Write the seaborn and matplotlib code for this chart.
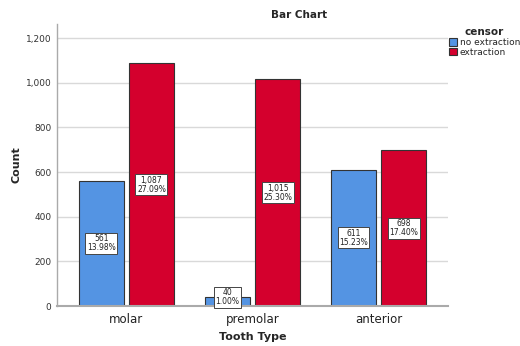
import numpy as np
import pandas as pd
import matplotlib
matplotlib.use('Agg')
import matplotlib.pyplot as plt
import seaborn as sns

tooth_types = ['molar', 'premolar', 'anterior']
censor_levels = ['no extraction', 'extraction']
no_extraction_counts = [561, 40, 611]
extraction_counts = [1087, 1015, 698]
no_extraction_pct = ['13.98%', '1.00%', '15.23%']
extraction_pct = ['27.09%', '25.30%', '17.40%']

df = pd.DataFrame({
    'Tooth Type': tooth_types * 2,
    'censor': [censor_levels[0]] * 3 + [censor_levels[1]] * 3,
    'Count': no_extraction_counts + extraction_counts,
    'pct': no_extraction_pct + extraction_pct,
})

sns.set_style('white')
plt.rcParams['font.family'] = ['DejaVu Sans']

fig = plt.figure(figsize=(5.2, 3.46), dpi=100)
ax = fig.add_axes([57 / 520, 1 - 306 / 346, (448 - 57) / 520, (306 - 24) / 346])

palette = {'no extraction': '#5494E3', 'extraction': '#D4002D'}
sns.barplot(data=df, x='Tooth Type', y='Count', hue='censor', order=tooth_types,
            hue_order=censor_levels, palette=palette, width=0.795, gap=0.1,
            edgecolor='#333333', linewidth=0.8, saturation=1, legend=True, ax=ax)

# value boxes in the middle of each bar
for container, level in zip(ax.containers, censor_levels):
    sub = df[df['censor'] == level]
    for bar, (_, row) in zip(container, sub.iterrows()):
        cx = bar.get_x() + bar.get_width() / 2
        cy = bar.get_height() / 2
        if row['Count'] < 100:
            cy = 40
        ax.text(cx, cy, '{:,}\n{}'.format(row['Count'], row['pct']), ha='center', va='center',
                fontsize=5.5, linespacing=1.0, color='#222222',
                bbox=dict(boxstyle='square,pad=0.2', fc='white', ec='#444444', lw=0.7))

ax.set_xlim(-0.55, 2.55)
ax.set_ylim(0, 1263)
ax.set_yticks([0, 200, 400, 600, 800, 1000, 1200])
ax.set_yticklabels(['{:,}'.format(v) for v in [0, 200, 400, 600, 800, 1000, 1200]])
ax.yaxis.grid(True, color='#D9D9D9', linewidth=1.0)
ax.set_axisbelow(True)
ax.tick_params(axis='y', labelsize=6.5, colors='#333333', length=0, pad=4)
ax.tick_params(axis='x', labelsize=8.5, colors='#222222', length=0, pad=5)

for s in ['top', 'right']:
    ax.spines[s].set_visible(False)
ax.spines['left'].set_color('#AAAAAA')
ax.spines['left'].set_linewidth(1.0)
ax.spines['bottom'].set_color('#AAAAAA')
ax.spines['bottom'].set_linewidth(1.5)

ax.set_xlabel('Tooth Type', fontsize=8, fontweight='bold')
ax.set_ylabel('Count', fontsize=8, fontweight='bold')
ax.yaxis.set_label_coords((22 - 57) / 391, 0.5)
ax.xaxis.set_label_coords(0.5, (306 - 332) / 282)

fig.text(299 / 520, 1 - 15 / 346, 'Bar Chart', ha='center', va='center',
         fontsize=7.5, fontweight='bold')

leg = ax.legend(title='censor', loc='upper left', bbox_to_anchor=(449 / 520, 1 - 27 / 346),
                bbox_transform=fig.transFigure, frameon=False, fontsize=6.5,
                handlelength=0.9, handleheight=0.9, handletextpad=0.3,
                labelspacing=0.1, borderpad=0, borderaxespad=0)
leg.get_title().set_fontsize(7.5)
leg.get_title().set_fontweight('bold')

fig.savefig('out.png', dpi=100)
